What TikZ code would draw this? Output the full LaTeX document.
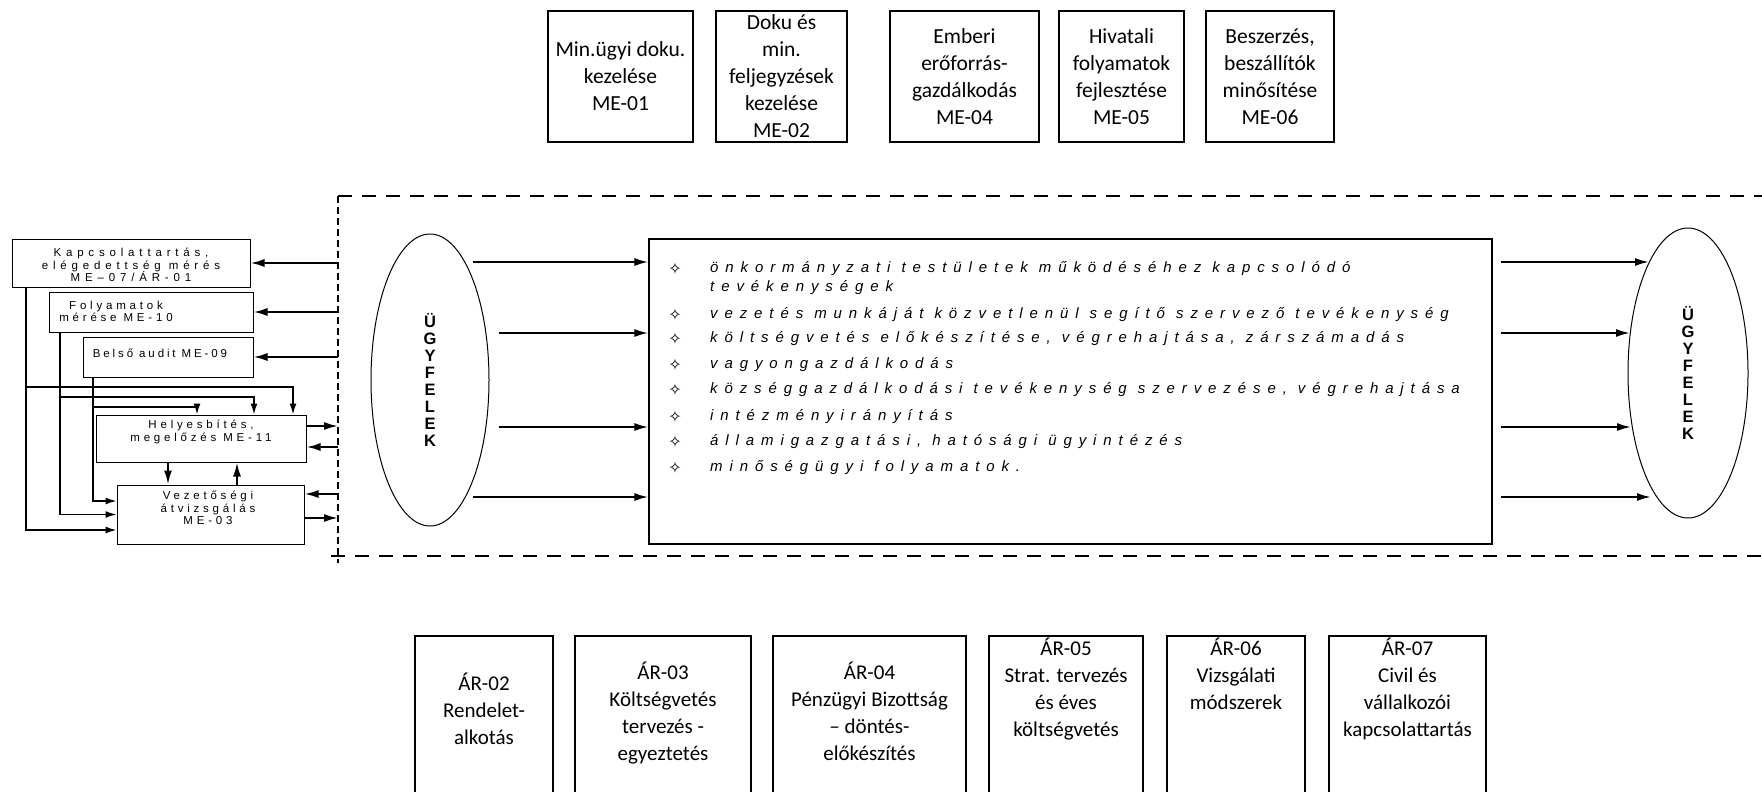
\documentclass[tikz,border=0pt]{standalone}
\usepackage{fontspec}
\setmainfont{Liberation Sans}
\newfontfamily\calfont{Carlito}
\newfontfamily\starfont{DejaVu Sans}
\newfontfamily\widefont[LetterSpace=46]{Liberation Sans}
\newfontfamily\boxfont[LetterSpace=33]{Liberation Sans}
\usetikzlibrary{arrows.meta,positioning,calc,shapes.geometric}
\tikzset{
  mebox/.style ={rectangle, draw, line width=2pt, minimum height=131pt, inner sep=0pt,
                 align=center, font=\calfont\fontsize{21.5}{27}\selectfont},
  arbox/.style ={rectangle, draw, line width=2pt, minimum height=200pt, inner sep=0pt},
  artxt/.style ={align=center, inner sep=0pt, font=\calfont\fontsize{21}{27}\selectfont},
  lbox/.style  ={rectangle, draw, line width=1pt, inner sep=0pt},
  ltxt/.style  ={align=center, inner sep=0pt, font=\boxfont\fontsize{11.5}{12.5}\selectfont},
  ell/.style   ={ellipse, draw, line width=1pt, inner sep=0pt, align=center,
                 font=\bfseries\fontsize{16.5}{17}\selectfont},
  itm/.style   ={anchor=west, align=left, inner sep=0pt,
                 font=\widefont\itshape\fontsize{15}{19}\selectfont},
  bul/.style   ={inner sep=0pt, font=\starfont\fontsize{16}{18}\selectfont},
  ar/.style    ={-{Latex[length=14pt,width=8pt]}, line width=2pt},
  arn/.style   ={-{Latex[length=11pt,width=7pt]}, line width=1.5pt},
  frmh/.style  ={line width=2.5pt, dash pattern=on 14pt off 10pt},
  frmv/.style  ={line width=2.5pt, dash pattern=on 7pt off 4pt}
}

\begin{document}
\begin{tikzpicture}[x=1pt, y=-1pt]
\useasboundingbox (0,0) rectangle (1762,792);
\clip (0,0) rectangle (1762,792);

\node[mebox, minimum width=145pt] (me01) at (620.5,76.5) {Min.ügyi doku.\\kezelése\\ME-01};
\node[mebox, minimum width=131pt, right=21pt of me01] (me02) {Doku és\\min.\\feljegyzések\\kezelése\\ME-02};
\node[mebox, minimum width=149pt, right=41pt of me02] (me04) {Emberi\\erőforrás-\\gazdálkodás\\ME-04};
\node[mebox, minimum width=125pt, right=18pt of me04] (me05) {Hivatali\\folyamatok\\fejlesztése\\ME-05};
\node[mebox, minimum width=128pt, right=20pt of me05] (me06) {Beszerzés,\\beszállítók\\minősítése\\ME-06};

\coordinate (fl) at (338,196);
\coordinate (fb) at (331,556);
\draw[frmh] (fl) -- (1770,196);
\draw[frmv] (fl) -- (338,563);
\draw[frmh] (fb) -- (1770,556);

\node[ell, minimum width=118pt, minimum height=292pt] (lu) at (430,380) {Ü\\G\\Y\\F\\E\\L\\E\\K};
\node[rectangle, draw, line width=1.2pt, minimum width=843pt, minimum height=305pt] (main) at (1070.5,391.5) {};
\node[ell, minimum width=120pt, minimum height=290pt] (ru) at (1688,373) {Ü\\G\\Y\\F\\E\\L\\E\\K};

\foreach \yy [count=\i] in {269,315,339,365,390,417,442,468}
  \node[bul] (bul\i) at (675,\yy) {✧};
\node[itm] (it1) at (710,278.5) {önkormányzati testületek működéséhez kapcsolódó\\tevékenységek};
\node[itm] (it2) at (710,315) {vezetés munkáját közvetlenül segítő szervező tevékenység};
\node[itm] (it3) at (710,339) {költségvetés előkészítése, végrehajtása, zárszámadás};
\node[itm] (it4) at (710,365) {vagyongazdálkodás};
\node[itm] (it5) at (710,390) {községgazdálkodási tevékenység szervezése, végrehajtása};
\node[itm] (it6) at (710,417) {intézményirányítás};
\node[itm] (it7) at (710,442) {államigazgatási, hatósági ügyintézés};
\node[itm] (it8) at (710,468) {minőségügyi folyamatok.};

\foreach \yy/\dx in {262/-17,333/9,427/9,497/-17}
  \draw[ar] ($(lu.east |- 0,\yy)+(\dx,0)$) -- (main.west |- 0,\yy);
\foreach \yy/\dx in {262/-39,333/-58,427/-57,497/-37}
  \draw[ar] ($(main.east |- 0,\yy)+(8,0)$) -- ($(ru.center |- 0,\yy)+(\dx,0)$);

\node[lbox, minimum width=238pt, minimum height=48pt] (kap) at (131,263) {};
\node[ltxt, font=\boxfont\addfontfeature{LetterSpace=42}\fontsize{11.5}{12.5}\selectfont] (kapt) at (131,265) {Kapcsolattartás,\\elégedettség mérés\\ME–07/ÁR-01};
\node[lbox, minimum width=204pt, minimum height=40pt] (foly) at (151,312) {};
\node[ltxt] (folyt) at (116,311.5) {Folyamatok\\mérése ME-10};
\node[lbox, minimum width=170pt, minimum height=40pt] (bels) at (168,357) {};
\node[ltxt, font=\boxfont\addfontfeature{LetterSpace=25}\fontsize{11.5}{12.5}\selectfont] (belst) at (160,353) {Belső audit ME-09};
\node[lbox, minimum width=210pt, minimum height=47pt] (hely) at (201,438.5) {};
\node[ltxt, font=\boxfont\fontsize{11.5}{13.5}\selectfont] (helyt) at (201,432) {Helyesbítés,\\megelőzés ME-11};
\node[lbox, minimum width=187pt, minimum height=59pt] (vez) at (210.5,514.5) {};
\node[ltxt] (vezt) at (208,508) {Vezetőségi\\átvizsgálás\\ME-03};

\draw[ar] (fl |- kap.east) -- (kap.east);
\draw[ar] (fl |- foly.east) -- (foly.east);
\draw[ar] (fl |- bels.east) -- (bels.east);
\draw[ar] ($(hely.east)+(0,-12.5)$) -- ($(fl |- hely.east)+(0,-12.5)$);
\draw[ar] ($(fl |- hely.east)+(0,8.5)$) -- ($(hely.east)+(0,8.5)$);
\draw[ar] ($(fl |- vez.east)+(0,-20.5)$) -- ($(vez.east)+(0,-20.5)$);
\draw[ar] ($(vez.east)+(0,3.5)$) -- ($(fl |- vez.east)+(0,3.5)$);
\draw[ar] ($(hely.south)+(-33,0)$) -- ($(vez.north)+(-42.5,0)$);
\draw[ar] ($(vez.north)+(26.5,0)$) -- ($(hely.south)+(36,0)$);

\coordinate (kx) at (26,387);
\coordinate (fx) at (60,397);
\coordinate (bx) at (93,407);
\draw[arn] (kap.south -| kx) |- ($(vez.west)+(0,15.5)$);
\draw[arn] (foly.south -| fx) |- (vez.west);
\draw[arn] (bels.south -| bx) |- ($(vez.west)+(0,-13.5)$);
\draw[arn] (kx) -| ($(hely.north)+(92,0)$);
\draw[arn] (fx) -| ($(hely.north)+(53,0)$);
\draw[arn] (bx) -| ($(hely.north)+(-4,0)$);

\node[arbox, minimum width=138pt, anchor=north west] (ar02) at (414,635) {};
\node[arbox, minimum width=176pt, right=20pt of ar02] (ar03) {};
\node[arbox, minimum width=193pt, right=20pt of ar03] (ar04) {};
\node[arbox, minimum width=154pt, right=21pt of ar04] (ar05) {};
\node[arbox, minimum width=138pt, right=22pt of ar05] (ar06) {};
\node[arbox, minimum width=157pt, right=22pt of ar06] (ar07) {};
\node[artxt, below=38pt of ar02.north] (ar02t) {ÁR-02\\Rendelet-\\alkotás};
\node[artxt, below=27pt of ar03.north] (ar03t) {ÁR-03\\Költségvetés\\tervezés -\\egyeztetés};
\node[artxt, below=27pt of ar04.north] (ar04t) {ÁR-04\\Pénzügyi Bizottság\\– döntés-\\előkészítés};
\node[artxt, below=3pt of ar05.north] (ar05t) {ÁR-05\\Strat. tervezés\\és éves\\költségvetés};
\node[artxt, below=3pt of ar06.north] (ar06t) {ÁR-06\\Vizsgálati\\módszerek};
\node[artxt, below=3pt of ar07.north] (ar07t) {ÁR-07\\Civil és\\vállalkozói\\kapcsolattartás};
\end{tikzpicture}
\end{document}
